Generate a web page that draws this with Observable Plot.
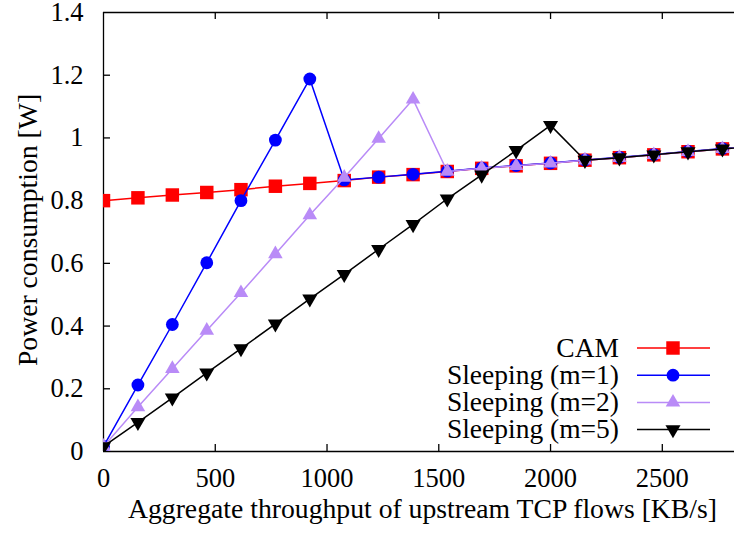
<!DOCTYPE html>
<html>
<head>
<meta charset="utf-8">
<script src="https://cdn.jsdelivr.net/npm/d3@7"></script>
<script src="https://cdn.jsdelivr.net/npm/@observablehq/plot@0.6"></script>
<style>
  body { margin: 0; background: white; }
  #chart { width: 734px; height: 540px; }
</style>
</head>
<body>
<div id="chart"></div>
<script>
// ---- data ----
const throughput = [0, 154, 308, 462, 615, 769, 923, 1077, 1231, 1385, 1538, 1692, 1846, 2000, 2154, 2308, 2462, 2615, 2769, 2923];
const cam   = [0.800, 0.809, 0.818, 0.826, 0.835, 0.846, 0.855, 0.864, 0.875, 0.883, 0.893, 0.903, 0.911, 0.919, 0.929, 0.937, 0.946, 0.956, 0.965, 0.974];
const sleepM1 = [0.016, 0.212, 0.405, 0.602, 0.800, 0.993, 1.188, 0.866, 0.875, 0.884, 0.894, 0.904, 0.912, 0.920, 0.930, 0.938, 0.947, 0.957, 0.966, 0.975];
const sleepM2 = [0.016, 0.142, 0.264, 0.386, 0.506, 0.630, 0.754, 0.874, 0.998, 1.123, 0.893, 0.903, 0.911, 0.919, 0.929, 0.937, 0.946, 0.956, 0.965, 0.974];
const sleepM5 = [0.016, 0.093, 0.171, 0.251, 0.328, 0.407, 0.487, 0.565, 0.645, 0.724, 0.806, 0.882, 0.960, 1.040, 0.929, 0.937, 0.946, 0.956, 0.965, 0.974];
const seriesNames = ["CAM", "Sleeping (m=1)", "Sleeping (m=2)", "Sleeping (m=5)"];
const xTicks = [0, 500, 1000, 1500, 2000, 2500];
const yTicks = [0, 0.2, 0.4, 0.6, 0.8, 1, 1.2, 1.4];
const yTickLabels = ["0", "0.2", "0.4", "0.6", "0.8", "1", "1.2", "1.4"];
const xLabel = "Aggregate throughput of upstream TCP flows [KB/s]";
const yLabel = "Power consumption [W]";

// ---- styles ----
const triDown = {
  draw(ctx, size) {
    const y = -Math.sqrt(size / (Math.sqrt(3) * 3));
    const s3 = Math.sqrt(3);
    ctx.moveTo(0, -2 * y);
    ctx.lineTo(-s3 * y, y);
    ctx.lineTo(s3 * y, y);
    ctx.closePath();
  }
};
const styles = [
  {color: "#ff0000", symbol: "square", r: 7.6},
  {color: "#0000ff", symbol: "circle", r: 6.4},
  {color: "#b98bf7", symbol: "triangle", r: 5.4},
  {color: "#000000", symbol: triDown, r: 5.6}
];
const allValues = [cam, sleepM1, sleepM2, sleepM5];

const rows = [];
allValues.forEach((vals, s) => vals.forEach((v, i) => rows.push({series: seriesNames[s], x: throughput[i], y: v})));

const FONT = '"Liberation Serif", "Times New Roman", serif';
const TICK_FS = 26.5;
const LABEL_FS = 27.7;
const LEGEND_FS = 27.5;
const frameH = 540 - 12 - 89;
const frameW = 734 - 103;

const marks = [];
seriesNames.forEach((name, s) => {
  const d = rows.filter(r => r.series === name);
  marks.push(Plot.line(d, {x: "x", y: "y", stroke: styles[s].color, strokeWidth: 1.5, clip: true}));
  marks.push(Plot.dot(d, {x: "x", y: "y", fill: styles[s].color, stroke: "none", symbol: () => styles[s].symbol, r: styles[s].r, clip: true}));
});

const plot = Plot.plot({
  width: 734,
  height: 540,
  marginLeft: 103,
  marginRight: 0,
  marginTop: 12,
  marginBottom: 89,
  x: {domain: [0, 2823], label: null},
  y: {domain: [0, 1.4], label: null},
  symbol: {type: "identity"},
  style: {fontFamily: FONT, fontSize: TICK_FS + "px", background: "white", color: "black"},
  marks: [
    // frame lines (left, bottom, top)
    Plot.ruleX([0], {stroke: "black", strokeWidth: 1.3}),
    Plot.ruleY([0], {stroke: "black", strokeWidth: 1.3}),
    Plot.ruleY([1.4], {stroke: "black", strokeWidth: 1.3}),
    // inward ticks
    Plot.tickX(xTicks.slice(1), {x: d => d, stroke: "black", strokeWidth: 1.3, insetTop: frameH - 7}),
    Plot.tickX(xTicks.slice(1), {x: d => d, stroke: "black", strokeWidth: 1.3, insetBottom: frameH - 7}),
    Plot.tickY(yTicks.slice(1, -1), {y: d => d, stroke: "black", strokeWidth: 1.3, insetRight: frameW - 7}),
    Plot.axisX(xTicks, {tickSize: 0, tickPadding: 17, fontSize: TICK_FS, fontFamily: FONT, tickFormat: d => String(d)}),
    Plot.axisY(yTicks, {tickSize: 0, tickPadding: 20, fontSize: TICK_FS, fontFamily: FONT, tickFormat: (d, i) => yTickLabels[i]}),
    ...marks,
    Plot.text([xLabel], {text: d => d, frameAnchor: "bottom", dy: 66.8, dx: 3.5, fontSize: LABEL_FS, fontFamily: FONT}),
    Plot.text([yLabel], {text: d => d, frameAnchor: "left", textAnchor: "middle", dx: -75, dy: -2, rotate: -90, fontSize: LABEL_FS, fontFamily: FONT})
  ]
});

// ---- legend (inside the plot, bottom right) ----
const svg = d3.select(plot);
const leg = svg.append("g").attr("font-family", FONT).attr("font-size", LEGEND_FS);
seriesNames.forEach((name, s) => {
  const cy = 348 + s * 27.2;
  leg.append("text").attr("x", 619).attr("y", cy).attr("dy", "0.32em").attr("text-anchor", "end").attr("fill", "black").text(name);
  leg.append("line").attr("x1", 637).attr("x2", 710).attr("y1", cy).attr("y2", cy).attr("stroke", styles[s].color).attr("stroke-width", 1.5);
  const sym = styles[s].symbol;
  const symType = sym === "square" ? d3.symbolSquare : sym === "circle" ? d3.symbolCircle : sym === "triangle" ? d3.symbolTriangle : sym;
  leg.append("path")
    .attr("transform", `translate(673,${cy})`)
    .attr("d", d3.symbol(symType, Math.PI * styles[s].r * styles[s].r)())
    .attr("fill", styles[s].color);
});

document.getElementById("chart").appendChild(plot);
</script>
</body>
</html>
